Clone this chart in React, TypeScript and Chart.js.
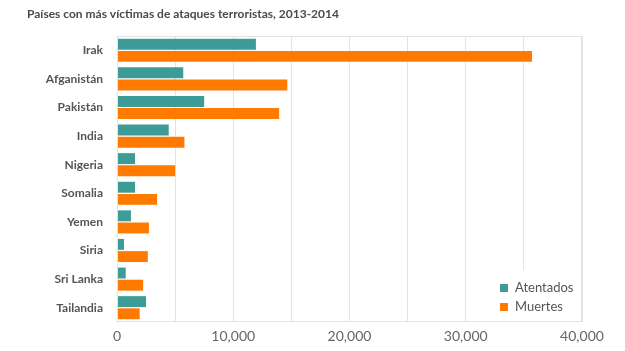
import React, { useEffect, useRef } from "react";
import { Chart, registerables } from "chart.js";

Chart.register(...registerables);

const TITLE = "Países con más víctimas de ataques terroristas, 2013-2014";
const countries = ["Irak", "Afganistán", "Pakistán", "India", "Nigeria", "Somalia", "Yemen", "Siria", "Sri Lanka", "Tailandia"];
const atentados = [11950, 5700, 7500, 4450, 1550, 1550, 1200, 600, 750, 2500];
const muertes = [35700, 14650, 13950, 5800, 5000, 3450, 2750, 2650, 2250, 1950];
const seriesNames = ["Atentados", "Muertes"];
const seriesColors = ["#3d9c98", "#ff7a00"];
const xMax = 40000;
const xStep = 5000;

const FONT = "Lato, 'Open Sans', sans-serif";

const framePlugin = {
  id: "frameAndLegend",
  afterDatasetsDraw(chart: any) {
    const { ctx, chartArea } = chart;
    const { left, top, right, bottom } = chartArea;
    ctx.save();
    // legend box background
    ctx.fillStyle = "#ffffff";
    ctx.fillRect(right - 90, bottom - 52, 88, 51);
    // frame
    ctx.strokeStyle = "#e3e3e3";
    ctx.lineWidth = 1;
    ctx.strokeRect(left + 0.5, top + 0.5, right - left - 1, bottom - top - 1);
    // legend
    ctx.font = `13px ${FONT}`;
    ctx.textBaseline = "middle";
    ctx.textAlign = "left";
    seriesNames.forEach((n, i) => {
      const y = bottom - 34 + i * 19;
      ctx.fillStyle = seriesColors[i];
      ctx.fillRect(right - 82, y - 4, 8, 8);
      ctx.fillStyle = "#555555";
      ctx.fillText(n, right - 67, y);
    });
    // title
    ctx.font = `bold 12px ${FONT}`;
    ctx.fillStyle = "#4a4a4a";
    ctx.textBaseline = "middle";
    ctx.fillText(TITLE, 27, 14);
    ctx.restore();
  },
};

export default function App() {
  const ref = useRef<HTMLCanvasElement>(null);
  useEffect(() => {
    if (!ref.current) return;
    const chart = new Chart(ref.current, {
      type: "bar",
      data: {
        labels: countries,
        datasets: [
          { label: seriesNames[0], data: atentados, backgroundColor: seriesColors[0], categoryPercentage: 0.85, barPercentage: 0.9 },
          { label: seriesNames[1], data: muertes, backgroundColor: seriesColors[1], categoryPercentage: 0.85, barPercentage: 0.9 },
        ],
      },
      options: {
        indexAxis: "y",
        responsive: false,
        animation: false,
        maintainAspectRatio: false,
        layout: { padding: { top: 36, right: 43, left: 0, bottom: 0 } },
        plugins: { legend: { display: false }, title: { display: false }, tooltip: { enabled: false } },
        scales: {
          x: {
            min: 0,
            max: xMax,
            afterFit(scale: any) { scale.height = 29; },
            ticks: {
              stepSize: xStep,
              autoSkip: false,
              maxRotation: 0,
              padding: 6,
              color: "#666666",
              font: { family: FONT, size: 14 },
              callback: (v: any) => (Number(v) % 10000 === 0 ? Number(v).toLocaleString("en-US") : ""),
            },
            grid: { color: "#e3e3e3", tickLength: 0, drawTicks: false },
            border: { display: false },
          },
          y: {
            afterFit(scale: any) { scale.width = 117; },
            ticks: {
              padding: 14,
              color: "#555555",
              font: { family: FONT, size: 12, weight: "bold" },
            },
            grid: { display: false, drawTicks: false },
            border: { display: false },
          },
        },
      },
      plugins: [framePlugin],
    } as any);
    return () => chart.destroy();
  }, []);
  return (
    <div style={{ position: "fixed", left: 0, top: 0, width: 625, height: 351, background: "#fff" }}>
      <canvas ref={ref} width={625} height={351} style={{ width: 625, height: 351 }} />
    </div>
  );
}
